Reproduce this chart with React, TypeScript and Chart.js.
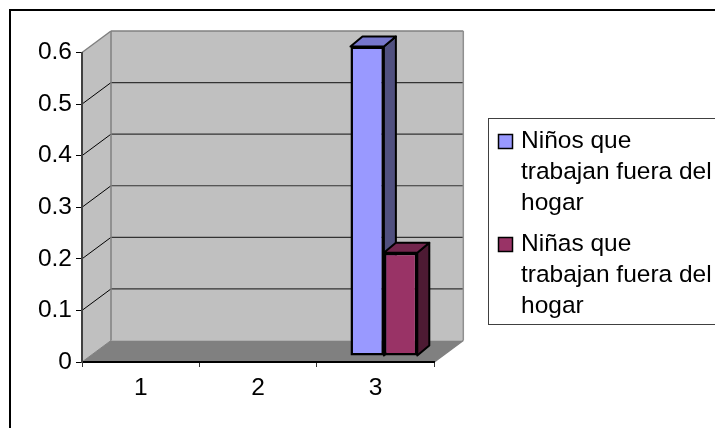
import React, { useEffect, useRef } from "react";
import { Chart, registerables } from "chart.js";

Chart.register(...registerables);

const categories = ["1", "2", "3"];
const boysValues = [null, null, 0.6];
const girlsValues = [null, null, 0.2];
const boysLabel = "Niños que trabajan fuera del hogar";
const girlsLabel = "Niñas que trabajan fuera del hogar";
const boysLegendLines = ["Niños que", "trabajan fuera del", "hogar"];
const girlsLegendLines = ["Niñas que", "trabajan fuera del", "hogar"];

const FONT = '"Liberation Sans", Arial, sans-serif';
const FONT_SIZE = 24.5;
const WALL_DX = 29;
const WALL_DY = -21.5;
const BAR_SHIFT_X = 8.3;
const BAR_SHIFT_Y = -6;
const BAR_DX = 12;
const BAR_DY = -10;

const faces = [
  { front: "#9999FF", side: "#50507F", top: "#7777CC" },
  { front: "#993366", side: "#4D1A33", top: "#73264D" },
];

function poly(ctx: CanvasRenderingContext2D, pts: number[][], fill?: string, stroke?: string, lw = 1) {
  ctx.beginPath();
  pts.forEach((p, i) => (i ? ctx.lineTo(p[0], p[1]) : ctx.moveTo(p[0], p[1])));
  ctx.closePath();
  if (fill) {
    ctx.fillStyle = fill;
    ctx.fill();
  }
  if (stroke) {
    ctx.strokeStyle = stroke;
    ctx.lineWidth = lw;
    ctx.stroke();
  }
}

function line(ctx: CanvasRenderingContext2D, a: number[], b: number[], color: string, lw: number) {
  ctx.beginPath();
  ctx.moveTo(a[0], a[1]);
  ctx.lineTo(b[0], b[1]);
  ctx.strokeStyle = color;
  ctx.lineWidth = lw;
  ctx.stroke();
}

const scene3d = {
  id: "scene3d",
  beforeDraw(chart: any) {
    const { ctx, chartArea: a, scales } = chart;
    const { left: l, right: r, top: t, bottom: b } = a;
    ctx.save();
    ctx.fillStyle = "#FFFFFF";
    ctx.fillRect(0, 0, chart.width, chart.height);
    // outer frame
    line(ctx, [10, 428], [10, 10], "#000", 2);
    line(ctx, [9, 10], [715, 10], "#000", 2);
    // walls
    const bl = l + WALL_DX;
    const br = r + WALL_DX;
    const bt = t + WALL_DY;
    const bb = b + WALL_DY;
    poly(ctx, [[l, t], [bl, bt], [bl, bb], [l, b]], "#C0C0C0");
    poly(ctx, [[bl, bt], [br, bt], [br, bb], [bl, bb]], "#C0C0C0");
    poly(ctx, [[l, b], [bl, bb], [br, bb], [r, b]], "#808080");
    // gridlines
    scales.y.ticks.forEach((tick: any) => {
      if (tick.value === 0 || tick.value >= 0.6) return;
      const y = scales.y.getPixelForValue(tick.value);
      line(ctx, [l, y], [bl, y + WALL_DY], "#000", 1);
      line(ctx, [bl, y + WALL_DY], [br, y + WALL_DY], "#333", 1.2);
    });
    // wall edges
    line(ctx, [l, t], [bl, bt], "#808080", 1.5);
    line(ctx, [bl, bt], [br, bt], "#808080", 1.5);
    line(ctx, [bl, bt], [bl, bb], "#808080", 1.5);
    line(ctx, [br, bt], [br, bb], "#909090", 1.5);
    line(ctx, [l, b], [bl, bb], "#808080", 1);
    line(ctx, [r, b], [br, bb], "#808080", 1.5);
    ctx.restore();
  },
  beforeDatasetDraw() {
    return false;
  },
  afterDatasetsDraw(chart: any) {
    const { ctx } = chart;
    ctx.save();
    ctx.translate(BAR_SHIFT_X, BAR_SHIFT_Y);
    chart.data.datasets.forEach((_: any, i: number) => {
      const meta = chart.getDatasetMeta(i);
      meta.data.forEach((el: any, j: number) => {
        if (meta.controller.getParsed(j).y == null) return;
        const { x, y, base, width } = el.getProps(["x", "y", "base", "width"], true);
        const x0 = x - width / 2;
        const x1 = x + width / 2;
        ctx.lineJoin = "round";
        poly(ctx, [[x1, y], [x1 + BAR_DX, y + BAR_DY], [x1 + BAR_DX, base + BAR_DY], [x1, base]], faces[i].side, "#000", 2);
        poly(ctx, [[x0, y], [x0 + BAR_DX, y + BAR_DY], [x1 + BAR_DX, y + BAR_DY], [x1, y]], faces[i].top, "#000", 2);
      });
      meta.controller.draw();
    });
    ctx.restore();

    // legend
    ctx.save();
    ctx.strokeStyle = "#404040";
    ctx.lineWidth = 1;
    ctx.strokeRect(488.5, 118.5, 240, 206);
    ctx.font = `${FONT_SIZE}px ${FONT}`;
    ctx.textBaseline = "alphabetic";
    ctx.textAlign = "left";
    ctx.fillStyle = "#000";
    const entries = [
      { lines: boysLegendLines, first: 148, marker: 134 },
      { lines: girlsLegendLines, first: 251, marker: 237 },
    ];
    entries.forEach((e, i) => {
      ctx.fillStyle = faces[i].front;
      ctx.fillRect(498.5, e.marker + 0.5, 14, 14);
      ctx.strokeStyle = "#000";
      ctx.lineWidth = 1.5;
      ctx.strokeRect(498.5, e.marker + 0.5, 14, 14);
      ctx.fillStyle = "#000";
      e.lines.forEach((t, k) => ctx.fillText(t, 521, e.first + k * 31));
    });
    ctx.restore();
  },
};

export default function App() {
  const ref = useRef<HTMLCanvasElement>(null);
  useEffect(() => {
    const chart = new Chart(ref.current!, {
      type: "bar",
      data: {
        labels: categories,
        datasets: [
          { label: boysLabel, data: boysValues, backgroundColor: faces[0].front, borderColor: "#000", borderWidth: 2.5, borderSkipped: false },
          { label: girlsLabel, data: girlsValues, backgroundColor: faces[1].front, borderColor: "#000", borderWidth: 2.5, borderSkipped: false },
        ],
      },
      options: {
        responsive: false,
        animation: false,
        devicePixelRatio: 1,
        layout: { padding: { left: 0, top: 52.5, right: 280.7, bottom: 0 } },
        plugins: { legend: { display: false }, title: { display: false }, tooltip: { enabled: false } },
        datasets: { bar: { categoryPercentage: 0.569, barPercentage: 1 } },
        scales: {
          x: {
            afterFit: (s: any) => { s.height = 66; },
            grid: { drawOnChartArea: false, drawTicks: true, tickLength: 5, color: "#333" },
            border: { color: "#000", width: 2 },
            ticks: { color: "#000", font: { family: FONT, size: FONT_SIZE }, padding: 7, maxRotation: 0 },
          },
          y: {
            min: 0,
            max: 0.6,
            afterFit: (s: any) => { s.width = 82; },
            grid: { drawOnChartArea: false, drawTicks: true, tickLength: 6, color: "#000" },
            border: { color: "#404040", width: 2 },
            ticks: {
              stepSize: 0.1,
              color: "#000",
              font: { family: FONT, size: FONT_SIZE },
              padding: 4,
              callback: (v: any) => String(Math.round(Number(v) * 10) / 10),
            },
          },
        },
      },
      plugins: [scene3d],
    } as any);
    return () => chart.destroy();
  }, []);
  return (
    <canvas
      ref={ref}
      width={715}
      height={428}
      style={{ position: "fixed", left: 0, top: 0, width: 715, height: 428, display: "block" }}
    />
  );
}
